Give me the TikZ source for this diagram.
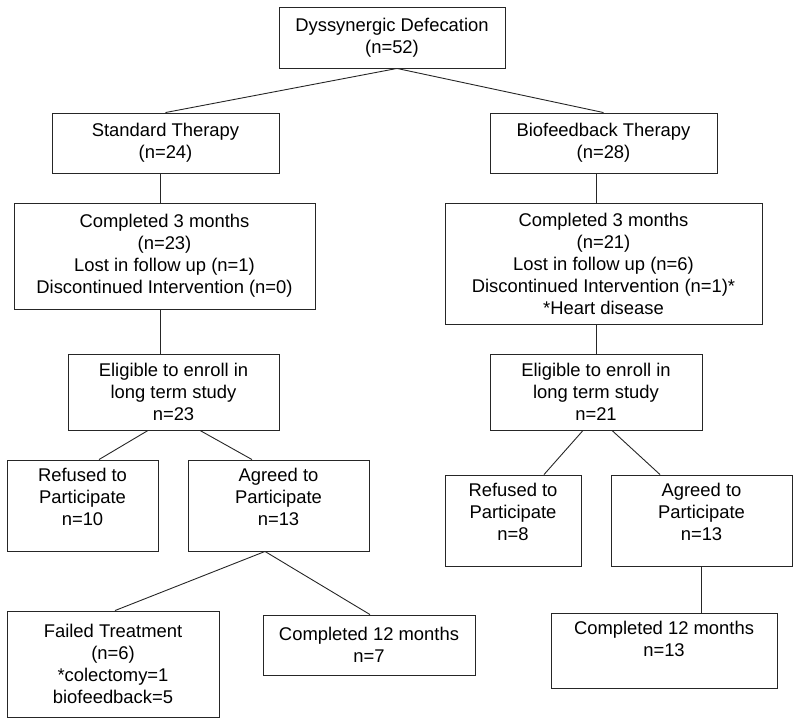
\documentclass[tikz,border=0pt]{standalone}
\usepackage{fontspec}
\setmainfont{Liberation Sans}
\usepackage{tikz}

\begin{document}
\begin{tikzpicture}[x=1bp, y=-1bp,
    every node/.style={font=\fontsize{18.4bp}{22bp}\selectfont},
    flowbox/.style={draw=black!85, line width=0.9bp, align=center, inner sep=2bp},
    link/.style={draw=black!85, line width=0.9bp}]
    \useasboundingbox (0,0) rectangle (800,725);
    \node [flowbox, minimum width=226bp, minimum height=61bp] (dd) at (392,37.5) {Dyssynergic Defecation\\(n=52)};
    \node [flowbox, minimum width=227bp, minimum height=60bp] (std) at (165.5,143) {Standard Therapy\\(n=24)};
    \node [flowbox, minimum width=227bp, minimum height=60bp] (bio) at (603.5,143) {Biofeedback Therapy\\(n=28)};
    \node [flowbox, minimum width=301bp, minimum height=106bp] (compl) at (164.5,256) {Completed 3 months\\(n=23)\\Lost in follow up (n=1)\\Discontinued Intervention (n=0)};
    \node [flowbox, minimum width=317bp, minimum height=121bp] (compr) at (603.5,263.5) {Completed 3 months\\(n=21)\\Lost in follow up (n=6)\\Discontinued Intervention (n=1)*\\*Heart disease};
    \node [flowbox, minimum width=211bp, minimum height=76bp] (eligl) at (173.5,392) {Eligible to enroll in\\long term study\\n=23};
    \node [flowbox, minimum width=212bp, minimum height=76bp] (eligr) at (596,392) {Eligible to enroll in\\long term study\\n=21};
    \node [flowbox, minimum width=151bp, minimum height=91bp, text depth=17bp] (refl) at (82.5,505.5) {Refused to\\Participate\\n=10};
    \node [flowbox, minimum width=181bp, minimum height=91bp, text depth=17bp] (agrl) at (278.5,505.5) {Agreed to\\Participate\\n=13};
    \node [flowbox, minimum width=136bp, minimum height=91bp, text depth=17bp] (refr) at (513,520.5) {Refused to\\Participate\\n=8};
    \node [flowbox, minimum width=181bp, minimum height=91bp, text depth=17bp] (agrr) at (701.5,520.5) {Agreed to\\Participate\\n=13};
    \node [flowbox, minimum width=212bp, minimum height=106bp] (fail) at (113,664) {Failed Treatment\\(n=6)\\*colectomy=1\\biofeedback=5};
    \node [flowbox, minimum width=212bp, minimum height=60bp] (twl) at (369,645) {Completed 12 months\\n=7};
    \node [flowbox, minimum width=226bp, minimum height=75bp, text depth=23bp] (twr) at (664,650.5) {Completed 12 months\\n=13};
    \draw [link] ([xshift=5bp]dd.south) -- (std.north);
    \draw [link] ([xshift=5bp]dd.south) -- (bio.north);
    \draw [link] (std.south -| 160,0) -- (compl.north -| 160,0);
    \draw [link] (compl.south -| 160,0) -- (eligl.north -| 160,0);
    \draw [link] (bio.south -| 596,0) -- (compr.north -| 596,0);
    \draw [link] (compr.south -| 596,0) -- (eligr.north);
    \draw [link] (eligl.south -| 148,0) -- (refl.north -| 99,0);
    \draw [link] (eligl.south -| 200,0) -- (agrl.north -| 252,0);
    \draw [link] (eligr.south -| 583,0) -- (refr.north -| 544,0);
    \draw [link] (eligr.south -| 612,0) -- (agrr.north -| 660,0);
    \draw [link] (agrl.south -| 265,0) -- (fail.north -| 115,0);
    \draw [link] (agrl.south -| 265,0) -- (twl.north -| 370,0);
    \draw [link] (agrr.south) -- (twr.north -| 701.5,0);
\end{tikzpicture}
\end{document}
